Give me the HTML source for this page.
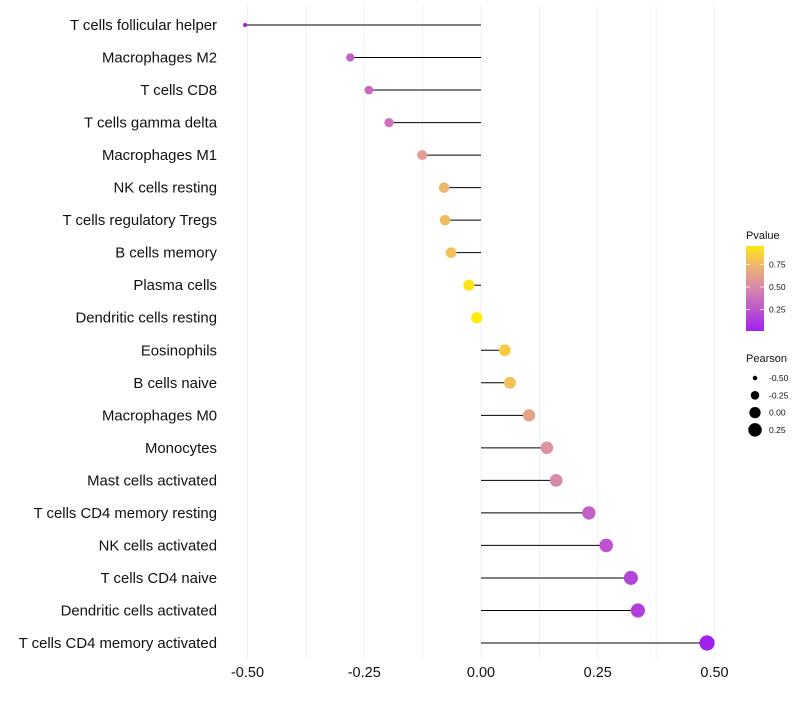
<!DOCTYPE html>
<html><head><meta charset="utf-8"><style>
body{margin:0;background:#fff;font-family:"Liberation Sans",sans-serif;}
</style></head><body>
<svg id="chart" width="800" height="700" xmlns="http://www.w3.org/2000/svg"></svg>
<script>
const categories=["T cells follicular helper","Macrophages M2","T cells CD8","T cells gamma delta","Macrophages M1","NK cells resting","T cells regulatory  Tregs ","B cells memory","Plasma cells","Dendritic cells resting","Eosinophils","B cells naive","Macrophages M0","Monocytes","Mast cells activated","T cells CD4 memory resting","NK cells activated","T cells CD4 naive","Dendritic cells activated","T cells CD4 memory activated"];
const pearson=[-0.505,-0.28,-0.24,-0.197,-0.126,-0.079,-0.077,-0.064,-0.026,-0.009,0.051,0.062,0.103,0.141,0.161,0.231,0.268,0.321,0.336,0.484];
const pvalue=[0.01,0.3,0.35,0.4,0.6,0.75,0.78,0.8,0.95,0.98,0.85,0.8,0.65,0.55,0.5,0.3,0.25,0.18,0.15,0.01];
const xTicks=[-0.5,-0.25,0,0.25,0.5];
const xTickLabels=["-0.50","-0.25","0.00","0.25","0.50"];
const pTicks=[0.25,0.5,0.75];
const sizeLegend=[-0.5,-0.25,0,0.25];
const sizeLegendLabels=["-0.50","-0.25","0.00","0.25"];

const NS="http://www.w3.org/2000/svg";
const svg=document.getElementById('chart');
function X(v){return 481+v*467;}
function Y(i){return 25+i*(618/19);}
function R(v){return Math.sqrt(Math.max(1,32+54*v));}
function lerp(a,b,t){return a.map((c,k)=>Math.round(c+(b[k]-c)*t));}
function col(p){const s=[[0,[160,32,240]],[0.5,[216,138,170]],[0.75,[240,182,110]],[1,[255,240,0]]];
for(let k=0;k<s.length-1;k++){if(p<=s[k+1][0]){const t=(p-s[k][0])/(s[k+1][0]-s[k][0]);return 'rgb('+lerp(s[k][1],s[k+1][1],t).join(',')+')';}}return 'rgb(255,240,0)';}
function el(tag,attrs,parent){const e=document.createElementNS(NS,tag);for(const k in attrs)e.setAttribute(k,attrs[k]);(parent||svg).appendChild(e);return e;}

for(let v=-0.5;v<=0.5001;v+=0.125){
const g=el('line',{x1:X(v),x2:X(v),y1:5,y2:660,stroke:'#f0f0f0','stroke-width':1});


}
xTicks.forEach((v,i)=>{
const t=el('text',{x:X(v),y:677,'text-anchor':'middle','font-size':14.5,fill:'#111'});
t.textContent=xTickLabels[i];


});
categories.forEach((c,i)=>{
const y=Y(i);
const t=el('text',{x:217,y:y+5,'text-anchor':'end','font-size':14.9,fill:'#111'});
t.textContent=c;


const l=el('line',{x1:X(0),x2:X(pearson[i]),y1:y,y2:y,stroke:'#000','stroke-width':1});


const d=el('circle',{cx:X(pearson[i]),cy:y,r:R(pearson[i]),fill:col(pvalue[i])});


});
const lt=el('text',{x:746,y:239,'font-size':11,fill:'#111'});lt.textContent='Pvalue';


const defs=el('defs',{});
const gr=el('linearGradient',{id:'pg',x1:0,y1:1,x2:0,y2:0},defs);
[0,0.25,0.5,0.75,1].forEach(o=>el('stop',{offset:o,'stop-color':col(0.01+o*0.95)},gr));
const bar=el('rect',{x:746,y:246,width:18,height:85,fill:'url(#pg)'});


pTicks.forEach(p=>{
const y=332-p*90;
el('line',{x1:746,x2:750,y1:y,y2:y,stroke:'#fff','stroke-width':0.8});
el('line',{x1:760,x2:764,y1:y,y2:y,stroke:'#fff','stroke-width':0.8});
const t=el('text',{x:769,y:y+3,'font-size':8.5,fill:'#111'});t.textContent=p.toFixed(2);


});
const st=el('text',{x:746,y:362,'font-size':11,fill:'#111'});st.textContent='Pearson';


sizeLegend.forEach((v,i)=>{
const y=378+i*17.3;
const c=el('circle',{cx:755,cy:y,r:R(v),fill:'#000'});


const t=el('text',{x:769,y:y+3,'font-size':8.5,fill:'#111'});t.textContent=sizeLegendLabels[i];


});
</script>
</body></html>
